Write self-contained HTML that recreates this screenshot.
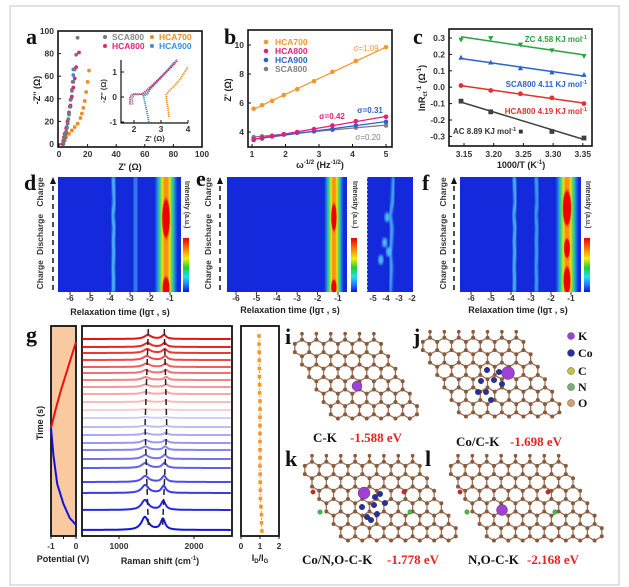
<!DOCTYPE html>
<html><head><meta charset="utf-8">
<style>
html,body{margin:0;padding:0;background:#fff;width:629px;height:587px;overflow:hidden}
svg{display:block}
text{font-family:"Liberation Sans",sans-serif;font-weight:bold}
.pl{font-family:"Liberation Serif",serif;font-size:22px;font-weight:bold;fill:#111}
.tk{font-size:8.5px;fill:#333}
.at{font-size:9px;fill:#222}
.sf{font-family:"Liberation Serif",serif;font-weight:bold}
</style></head>
<body>
<svg id="fig" width="629" height="587" viewBox="0 0 629 587" xmlns="http://www.w3.org/2000/svg">
<defs>
 <linearGradient id="cbar" x1="0" y1="0" x2="0" y2="1">
  <stop offset="0" stop-color="#e80000"/><stop offset="0.2" stop-color="#ff7a00"/><stop offset="0.38" stop-color="#f0f000"/>
  <stop offset="0.55" stop-color="#20d030"/><stop offset="0.72" stop-color="#20e0f0"/><stop offset="0.86" stop-color="#2080ff"/><stop offset="1" stop-color="#1010e0"/>
 </linearGradient>
 <linearGradient id="gc"><stop offset="0" stop-color="#30d8f0" stop-opacity="0"/><stop offset="0.25" stop-color="#30d8f0"/><stop offset="0.75" stop-color="#30d8f0"/><stop offset="1" stop-color="#30d8f0" stop-opacity="0"/></linearGradient>
 <linearGradient id="gg"><stop offset="0" stop-color="#40d040" stop-opacity="0"/><stop offset="0.25" stop-color="#40d040"/><stop offset="0.75" stop-color="#40d040"/><stop offset="1" stop-color="#40d040" stop-opacity="0"/></linearGradient>
 <linearGradient id="gy"><stop offset="0" stop-color="#f4f020" stop-opacity="0"/><stop offset="0.25" stop-color="#f4f020"/><stop offset="0.75" stop-color="#f4f020"/><stop offset="1" stop-color="#f4f020" stop-opacity="0"/></linearGradient>
 <linearGradient id="go"><stop offset="0" stop-color="#ff9a10" stop-opacity="0"/><stop offset="0.3" stop-color="#ff9010"/><stop offset="0.7" stop-color="#ff9010"/><stop offset="1" stop-color="#ff9010" stop-opacity="0"/></linearGradient>
 <radialGradient id="rb"><stop offset="0" stop-color="#e80000"/><stop offset="0.75" stop-color="#f00000"/><stop offset="1" stop-color="#ff5000" stop-opacity="0"/></radialGradient>
 <filter id="bl"><feGaussianBlur stdDeviation="1.2"/></filter>
</defs>
<rect x="10" y="6" width="609" height="579" fill="none" stroke="#cfcfcf" stroke-width="1.2"/>

<text class="pl" x="26" y="44">a</text>
<text class="pl" x="224" y="44">b</text>
<text class="pl" x="413" y="44">c</text>
<text class="pl" x="24" y="190">d</text>
<text class="pl" x="196" y="186">e</text>
<text class="pl" x="422" y="190">f</text>
<text class="pl" x="26" y="342">g</text>
<text class="pl" x="243" y="344">h</text>
<text class="pl" x="285" y="344">i</text>
<text class="pl" x="413" y="344">j</text>
<text class="pl" x="285" y="466">k</text>
<text class="pl" x="425" y="466">l</text>

<rect x="58" y="31" width="144" height="116" fill="none" stroke="#111" stroke-width="1.6"/>
<rect x="248" y="30" width="144" height="117" fill="none" stroke="#111" stroke-width="1.6"/>
<rect x="449" y="29" width="143" height="117" fill="none" stroke="#111" stroke-width="1.6"/>

<text class="at" transform="translate(40,90) rotate(-90)" text-anchor="middle">-Z'' (Ω)</text>
<text class="at" x="130" y="170" text-anchor="middle">Z' (Ω)</text>
<text class="tk" x="155" y="141" text-anchor="middle" style="font-size:7.5px">Z' (Ω)</text>
<text class="tk" transform="translate(106,91) rotate(-90)" text-anchor="middle" style="font-size:7.5px">-Z'' (Ω)</text>
<text x="112" y="40" style="font-size:8.5px;fill:#888">SCA800</text>
<text x="159" y="40" style="font-size:8.5px;fill:#f08a20">HCA700</text>
<text x="112" y="49" style="font-size:8.5px;fill:#e8207a">HCA800</text>
<text x="159" y="49" style="font-size:8.5px;fill:#3a8ee0">HCA900</text>

<text class="at" transform="translate(231,90) rotate(-90)" text-anchor="middle">Z' (Ω)</text>
<text class="at" x="320" y="168" text-anchor="middle">ω<tspan font-size="6" dy="-4">-1/2</tspan><tspan dy="4"> (Hz</tspan><tspan font-size="6" dy="-4">-1/2</tspan><tspan dy="4">)</tspan></text>
<text x="275" y="45" style="font-size:8.5px;fill:#f5962a">HCA700</text>
<text x="275" y="54" style="font-size:8.5px;fill:#e0207a">HCA800</text>
<text x="275" y="63" style="font-size:8.5px;fill:#2a62c8">HCA900</text>
<text x="275" y="72" style="font-size:8.5px;fill:#808080">SCA800</text>
<text x="366" y="51" text-anchor="middle" style="font-size:8px;fill:#f5962a;font-weight:normal">σ=1.09</text>
<text x="332" y="119" text-anchor="middle" style="font-size:8px;fill:#e0207a">σ=0.42</text>
<text x="370" y="113" text-anchor="middle" style="font-size:8px;fill:#2a62c8">σ=0.31</text>
<text x="368" y="140" text-anchor="middle" style="font-size:8px;fill:#808080;font-weight:normal">σ=0.20</text>

<text class="at" transform="translate(425,88) rotate(-90)" text-anchor="middle">lnR<tspan font-size="6" dy="2">ct</tspan><tspan font-size="6" dy="-6">-1</tspan><tspan dy="4"> (Ω</tspan><tspan font-size="6" dy="-4">-1</tspan><tspan dy="4">)</tspan></text>
<text class="at" x="521" y="168" text-anchor="middle">1000/T (K<tspan font-size="6" dy="-4">-1</tspan><tspan dy="4">)</tspan></text>
<text x="587" y="42" text-anchor="end" style="font-size:8px;fill:#2aa040">ZC 4.58 KJ mol<tspan font-size="5.5" dy="-3">-1</tspan></text>
<text x="587" y="87" text-anchor="end" style="font-size:8px;fill:#2a62c8">SCA800   4.11 KJ mol<tspan font-size="5.5" dy="-3">-1</tspan></text>
<text x="587" y="114" text-anchor="end" style="font-size:8px;fill:#e03030">HCA800   4.19 KJ mol<tspan font-size="5.5" dy="-3">-1</tspan></text>
<text x="453" y="134" style="font-size:8px;fill:#333">AC 8.89 KJ mol<tspan font-size="5.5" dy="-3">-1</tspan><tspan dy="3"> ■</tspan></text>

<text class="at" x="120" y="315" text-anchor="middle">Relaxation time (lgτ , s)</text>
<text class="at" x="290" y="313" text-anchor="middle">Relaxation time (lgτ , s)</text>
<text class="at" x="518" y="313" text-anchor="middle">Relaxation time (lgτ , s)</text>
<text class="sf" x="68" y="195" style="font-size:15px;fill:#fff">ZC</text>
<text class="sf" x="236" y="193" style="font-size:15px;fill:#fff">SCA800</text>
<text class="sf" x="464" y="193" style="font-size:15px;fill:#fff">HCA800</text>

<text class="at" transform="translate(43,423) rotate(-90)" text-anchor="middle">Time (s)</text>
<text class="at" x="63" y="562" text-anchor="middle">Potential (V)</text>
<text class="at" x="160" y="564" text-anchor="middle">Raman shift (cm<tspan font-size="6" dy="-4">-1</tspan><tspan dy="4">)</tspan></text>
<text class="at" x="260" y="561" text-anchor="middle">I<tspan font-size="6" dy="2">D</tspan><tspan dy="-2">/I</tspan><tspan font-size="6" dy="2">G</tspan></text>

<text class="sf" x="313" y="442" style="font-size:13px;fill:#111">C-K</text>
<text class="sf" x="350" y="442" style="font-size:13px;fill:#e82020">-1.588 eV</text>
<text class="sf" x="456" y="446" style="font-size:13px;fill:#111">Co/C-K</text>
<text class="sf" x="510" y="446" style="font-size:13px;fill:#e82020">-1.698 eV</text>
<text class="sf" x="302" y="564" style="font-size:13px;fill:#111">Co/N,O-C-K</text>
<text class="sf" x="387" y="564" style="font-size:13px;fill:#e82020">-1.778 eV</text>
<text class="sf" x="468" y="564" style="font-size:13px;fill:#111">N,O-C-K</text>
<text class="sf" x="527" y="564" style="font-size:13px;fill:#e82020">-2.168 eV</text>
</svg>

<script>
const aSCAx=[3,3.5,4,4.5,5,5.5,6,6.5,7,7.5,8,9,10,11,12,13];
const aSCAy=[1,3,5,8,11,14,18,22,27,33,39,47,55,66,79,94];
const aH800x=[2.5,3,3.5,4,5,6,7,8,9,10,11,12,14];
const aH800y=[0,3,6,9,14,20,28,34,42,50,58,68,81];
const aH900x=[3,4,5,5.5,6,7,8,8.5,9,9.5,10,10];
const aH900y=[0,5,10,15,20,26,33,40,48,55,61,66];
const aH700x=[3,4,5,7,9,11,13,15,16,17,18,19,20,21];
const aH700y=[0,3,6,9,12,15,18,23,27,32,38,46,55,65];
const aTicks=[0,20,40,60,80,100];
const inSCAx=[1.95,1.93,1.95,2.0,2.2,2.4,2.6,2.9,3.2,3.6];
const inSCAy=[-0.3,-0.15,0,0.1,0.1,0.12,0.3,0.65,1.0,1.5];
const inH800x=[1.85,1.85,1.95,2.3,2.6,3.0,3.4,3.6];
const inH800y=[-0.3,0,0.12,0.12,0.4,0.8,1.2,1.45];
const inH900x=[2.55,2.48,2.4,2.35,2.5,2.6,3.0,3.5];
const inH900y=[-1,-0.6,-0.2,0.05,0.1,0.35,0.8,1.4];
const inH700x=[3.3,3.25,3.2,3.2,3.3,3.5,3.7,4.0];
const inH700y=[-0.8,-0.4,-0.1,0.1,0.25,0.45,0.7,1.2];
const inXTicks=[2,3,4];
const inYTicks=[1,0,-1];
const bX=[1.05,1.3,1.6,1.95,2.35,2.85,3.4,4.1,5];
const bH700=[5.6,5.85,6.15,6.55,6.95,7.5,8.15,8.9,9.85];
const bH800=[3.5,3.6,3.7,3.85,4.0,4.2,4.45,4.75,5.05];
const bH900=[3.45,3.55,3.7,3.82,3.95,4.05,4.2,4.45,4.7];
const bSCA=[3.65,3.7,3.75,3.85,3.95,4.05,4.15,4.3,4.45];
const bXTicks=[1,2,3,4,5];
const bYTicks=[4,6,8,10];
const cX=[3.145,3.195,3.245,3.298,3.352];
const cZC=[0.29,0.30,0.26,0.225,0.19];
const cSCA=[0.18,0.15,0.115,0.09,0.075];
const cH800=[0.01,-0.02,-0.04,-0.065,-0.1];
const cACx=[3.145,3.195,3.298,3.352];
const cAC=[-0.085,-0.15,-0.27,-0.31];
const cXTicks=[3.15,3.20,3.25,3.30,3.35];
const cYTicks=[0.3,0.2,0.1,0.0,-0.1,-0.2,-0.3];
const hmTicks=[-6,-5,-4,-3,-2,-1];
const dThin=[-3.85,-2.75]; const dThinW=[0.12,0.3]; const dThinC=['#48b4f2','#2f78ea'];
const dMain=-1.2; const dLayers=[0.58,0.44,0.31,0.2];
const dBlobP=[0.36,0.97]; const dBlobRy=[0.2,0.12]; const dBlobRx=[0.22,0.2];
const eMain=-1.2; const eLayers=[0.48,0.36,0.25,0.15];
const eBlobP=[0.35,0.96]; const eBlobRy=[0.14,0.08]; const eBlobRx=[0.15,0.15];
const fThin=[-3.85,-2.75]; const fThinW=[0.11,0.13]; const fThinC=['#48b4f2','#3a9af0'];
const fMain=-1.2; const fLayers=[0.58,0.44,0.31,0.2];
const fBlobP=[0.27,0.62,0.9]; const fBlobRy=[0.18,0.1,0.14]; const fBlobRx=[0.24,0.17,0.2];
const wiggle=[0,0.05,0.1,-0.05,0.08,0,0.05,-0.02,0.03,0];
const e2Line=[-3.4,-3.45,-3.5,-3.7,-3.55,-3.6,-3.7,-3.6,-3.65,-3.7];
const e2SpotX=[-4.4,-4.1,-3.8,-3.9]; const e2SpotP=[0.72,0.57,0.65,0.35];
const e2Ticks=[-5,-4,-3,-2];
const ramanOffsets=[197,189,183,176,169,163,156,149,142,134,126,118,109,101,93,86,77,68,54,43,26,6];
const ramanDAmp=[4,4,4,4,3.5,3,3,2.5,2,1.5,1,1,1.5,2,3,3.5,4,5,6,8,10,13];
const ramanGAmp=[4,4,4,4,3.5,3,3,2.5,2,1.5,1,1,1.5,2,3,3.5,4,5,6,7,9,11];
const ramanDPos=[1385,1380,1375,1370,1365,1360,1355,1352,1350,1350,1350,1350,1350,1350,1350,1350,1350,1350,1350,1348,1345,1345];
const ramanGPos=[1600,1605,1610,1615,1620,1625,1628,1630,1632,1633,1634,1634,1630,1625,1620,1615,1610,1605,1600,1595,1590,1585];
const ramanTicks=[1000,2000];
const dashD=[[1391,197],[1347,100],[1391,0]];
const dashG=[[1604,197],[1636,100],[1582,0]];
const potRed=[[-1,108],[-0.8,128],[-0.6,146],[-0.4,162],[-0.2,178],[0,194]];
const potBlue=[[-1,108],[-0.9,80],[-0.75,52],[-0.5,32],[-0.25,18],[0,11]];
const potTicks=[-1,-0.5,0];
const hRatio=[0.95,0.95,0.96,0.96,0.97,0.97,0.98,0.98,1.0,1.0,1.0,1.0,1.0,1.0,1.0,1.0,1.0,1.01,1.01,1.02,1.02,1.05,1.08,1.08,1.1];
const hTicks=[0,1,2];

const NS='http://www.w3.org/2000/svg';
const svg=document.getElementById('fig');
function el(tag,attrs,name,parent){
  const e=document.createElementNS(NS,tag);
  for(const k in attrs)e.setAttribute(k,attrs[k]);
  
  
  (parent||svg).appendChild(e);return e;
}
function txt(x,y,s,cls,anchor,name){const t=el('text',{x:x,y:y,class:cls,'text-anchor':anchor||'middle'},name);t.textContent=s;return t;}
function marker(shape,x,y,c,r,name){
  if(shape==='c')return el('circle',{cx:x,cy:y,r:r,fill:c},name);
  if(shape==='s')return el('rect',{x:x-r,y:y-r,width:2*r,height:2*r,fill:c},name);
  if(shape==='tu')return el('polygon',{points:`${x},${y-r*1.2} ${x-r*1.1},${y+r*0.8} ${x+r*1.1},${y+r*0.8}`,fill:c},name);
  if(shape==='td')return el('polygon',{points:`${x},${y+r*1.2} ${x-r*1.1},${y-r*0.8} ${x+r*1.1},${y-r*0.8}`,fill:c},name);
}

const aX=v=>59+v*1.43, aY=v=>144-v*1.13;
aTicks.forEach(v=>{
  txt(aX(v),157,String(v),'tk','middle','a-x-tick-label');
  txt(54,aY(v)+3,String(v),'tk','end','a-y-tick-label');
  el('line',{x1:aX(v),x2:aX(v),y1:147,y2:144,stroke:'#111'},'a-x-tick');
  el('line',{x1:58,x2:61,y1:aY(v),y2:aY(v),stroke:'#111'},'a-y-tick');
});
function aSeries(xs,ys,c,name){xs.forEach((x,i)=>{marker('c',aX(x),aY(ys[i]),c,1.9,name);});}
aSeries(aH700x,aH700y,'#f08a20','series-hca700-point');
aSeries(aH900x,aH900y,'#3a8ee0','series-hca900-point');
aSeries(aH800x,aH800y,'#e8207a','series-hca800-point');
aSeries(aSCAx,aSCAy,'#777','series-sca800-point');
marker('c',105,37,'#777',2,'legend-marker-sca800');
marker('c',152,37,'#f08a20',2,'legend-marker-hca700');
marker('c',105,46,'#e8207a',2,'legend-marker-hca800');
marker('c',152,46,'#3a8ee0',2,'legend-marker-hca900');
const iX=v=>134+(v-2)*27, iY=v=>97-v*25;
el('polyline',{points:'121,60 121,123 188,123',fill:'none',stroke:'#111','stroke-width':1.2},'a-inset-axes');
inXTicks.forEach(v=>{txt(iX(v),132,String(v),'tk','middle','a-inset-x-tick-label');el('line',{x1:iX(v),x2:iX(v),y1:123,y2:120,stroke:'#111'},'a-inset-x-tick');});
inYTicks.forEach(v=>{txt(117,iY(v)+3,String(v),'tk','end','a-inset-y-tick-label');el('line',{x1:121,x2:124,y1:iY(v),y2:iY(v),stroke:'#111'},'a-inset-y-tick');});
function inLine(xs,ys,c,name){el('polyline',{points:xs.map((x,i)=>iX(x)+','+iY(ys[i])).join(' '),fill:'none',stroke:c,'stroke-width':1.8,'stroke-dasharray':'1.2 0.8'},name);}
inLine(inH700x,inH700y,'#f08a20','inset-hca700');
inLine(inH900x,inH900y,'#3a8ee0','inset-hca900');
inLine(inSCAx,inSCAy,'#777','inset-sca800');
inLine(inH800x,inH800y,'#e8207a','inset-hca800');

const bXs=v=>252+(v-1)*33.5, bYs=v=>132-(v-4)*14.5;
bXTicks.forEach(v=>{txt(bXs(v),157,String(v),'tk','middle','b-x-tick-label');el('line',{x1:bXs(v),x2:bXs(v),y1:147,y2:144,stroke:'#111'},'b-x-tick');});
bYTicks.forEach(v=>{txt(244,bYs(v)+3,String(v),'tk','end','b-y-tick-label');el('line',{x1:248,x2:251,y1:bYs(v),y2:bYs(v),stroke:'#111'},'b-y-tick');});
function fitLine(xs,ys){const n=xs.length;let sx=0,sy=0,sxx=0,sxy=0;xs.forEach((x,i)=>{sx+=x;sy+=ys[i];sxx+=x*x;sxy+=x*ys[i];});const m=(n*sxy-sx*sy)/(n*sxx-sx*sx);return [m,(sy-m*sx)/n];}
function bSeries(ys,c,name){
  const [m,k]=fitLine(bX,ys);
  el('line',{x1:bXs(bX[0]),y1:bYs(m*bX[0]+k),x2:bXs(bX[bX.length-1]),y2:bYs(m*bX[bX.length-1]+k),stroke:c,'stroke-width':1.3},name+'-fit');
  bX.forEach((x,i)=>marker('c',bXs(x),bYs(ys[i]),c,2.3,name+'-point'));
}
bSeries(bSCA,'#808080','series-b-sca800');
bSeries(bH900,'#2a62c8','series-b-hca900');
bSeries(bH800,'#e0207a','series-b-hca800');
bSeries(bH700,'#f5962a','series-b-hca700');
marker('c',266,42,'#f5962a',2.3,'legend-b-marker-hca700');
marker('c',266,51,'#e0207a',2.3,'legend-b-marker-hca800');
marker('c',266,60,'#2a62c8',2.3,'legend-b-marker-hca900');
marker('c',266,69,'#808080',2.3,'legend-b-marker-sca800');

const cXs=v=>464+(v-3.15)/0.05*29.7, cYs=v=>38+(0.3-v)*164;
cXTicks.forEach(v=>{txt(cXs(v),157,v.toFixed(2),'tk','middle','c-x-tick-label');el('line',{x1:cXs(v),x2:cXs(v),y1:146,y2:143,stroke:'#111'},'c-x-tick');});
cYTicks.forEach(v=>{txt(445,cYs(v)+3,v.toFixed(1),'tk','end','c-y-tick-label');el('line',{x1:449,x2:452,y1:cYs(v),y2:cYs(v),stroke:'#111'},'c-y-tick');});
function cSeries(xs,ys,c,shape,name){
  const [m,k]=fitLine(xs,ys);
  el('line',{x1:cXs(xs[0]),y1:cYs(m*xs[0]+k),x2:cXs(xs[xs.length-1]),y2:cYs(m*xs[xs.length-1]+k),stroke:c,'stroke-width':1.5},name+'-fit');
  xs.forEach((x,i)=>marker(shape,cXs(x),cYs(ys[i]),c,2.4,name+'-point'));
}
cSeries(cX,cZC,'#2aa040','td','series-c-zc');
cSeries(cX,cSCA,'#2a62c8','tu','series-c-sca800');
cSeries(cX,cH800,'#e03030','c','series-c-hca800');
cSeries(cACx,cAC,'#404040','s','series-c-ac');

const HY0=177,HY1=292;
const hy=p=>HY0+p*(HY1-HY0);
let clipN=0;
function heatmap(x0,x1,X,pre,thin,thinW,thinC,main,layers,blobP,blobRy,blobRx){
  const id='clip'+(clipN++);
  const cp=el('clipPath',{id:id},pre+'-clip');
  el('rect',{x:x0,y:HY0,width:x1-x0,height:HY1-HY0},pre+'-clip-rect',cp);
  const g=el('g',{'clip-path':`url(#${id})`},pre+'-heatmap');
  el('rect',{x:x0,y:HY0,width:x1-x0,height:HY1-HY0,fill:'#1428dc'},pre+'-background',g);
  thin.forEach((c,i)=>{
    const pts=wiggle.map((w,j)=>X(c+w)+','+hy(j/(wiggle.length-1))).join(' ');
    el('polyline',{points:pts,fill:'none',stroke:thinC[i],'stroke-width':Math.max(2,thinW[i]*2*(X(1)-X(0))),filter:'url(#bl)'},pre+'-band',g);
  });
  const grads=['gc','gg','gy','go'];
  layers.forEach((hw,i)=>{
    el('rect',{x:X(main-hw),y:HY0,width:X(main+hw)-X(main-hw),height:HY1-HY0,fill:`url(#${grads[i]})`},pre+'-main-band',g);
  });
  blobP.forEach((p,i)=>{
    el('ellipse',{cx:X(main),cy:hy(p),rx:blobRx[i]*(X(1)-X(0)),ry:blobRy[i]*(HY1-HY0),fill:'url(#rb)'},pre+'-peak-blob',g);
  });
  hmTicks.forEach(v=>{if(X(v)>x0&&X(v)<x1){txt(X(v),301,String(v),'tk','middle',pre+'-x-tick-label');el('line',{x1:X(v),x2:X(v),y1:HY1,y2:HY1+3,stroke:'#333'},pre+'-x-tick');}});
}
function sideLabels(x,ax,pre){
  [['Charge',0.13],['Discharge',0.5],['Charge',0.85]].forEach(([s,p])=>{
    const t=el('text',{transform:`translate(${x},${hy(p)}) rotate(-90)`,'text-anchor':'middle',class:'tk'},pre+'-cycle-label');t.textContent=s;
  });
  el('line',{x1:ax,x2:ax,y1:HY1-2,y2:HY0+5,stroke:'#111','stroke-width':1.5,'stroke-dasharray':'5 4'},pre+'-cycle-arrow');
  el('polygon',{points:`${ax},${HY0} ${ax-3},${HY0+7} ${ax+3},${HY0+7}`,fill:'#111'},pre+'-cycle-arrowhead');
}
function colorbar(x,pre){
  el('rect',{x:x,y:238,width:6,height:54,fill:'url(#cbar)'},pre+'-colorbar');
  const t=el('text',{transform:`translate(${x+2},181) rotate(90)`,'font-size':7,fill:'#333'},pre+'-colorbar-title');t.textContent='Intensity (a.u.)';
}
const dX=v=>70+(v+6)*20, eX=v=>236+(v+6)*20.4, fX=v=>471+(v+6)*20, e2X=v=>373+(v+5)*13;
heatmap(58,181,dX,'d',dThin,dThinW,dThinC,dMain,dLayers,dBlobP,dBlobRy,dBlobRx);
heatmap(227,347,eX,'e',[],[],[],eMain,eLayers,eBlobP,eBlobRy,eBlobRx);
heatmap(460,581,fX,'f',fThin,fThinW,fThinC,fMain,fLayers,fBlobP,fBlobRy,fBlobRx);
sideLabels(43,53,'d');sideLabels(211,220,'e');sideLabels(446,454,'f');
colorbar(183,'d');colorbar(351,'e');colorbar(584,'f');
(function(){
  const cp=el('clipPath',{id:'clipE2'},'e-inset-clip');
  el('rect',{x:367,y:HY0,width:46,height:HY1-HY0},'e-inset-clip-rect',cp);
  const g=el('g',{'clip-path':'url(#clipE2)'},'e-inset-heatmap');
  el('rect',{x:367,y:HY0,width:46,height:HY1-HY0,fill:'#1428dc'},'e-inset-background',g);
  el('polyline',{points:e2Line.map((v,j)=>e2X(v)+','+hy(j/(e2Line.length-1))).join(' '),fill:'none',stroke:'#50c8f4','stroke-width':3,filter:'url(#bl)'},'e-inset-band',g);
  e2SpotX.forEach((v,i)=>el('ellipse',{cx:e2X(v),cy:hy(e2SpotP[i]),rx:2.5,ry:5,fill:'#50c8f4',filter:'url(#bl)'},'e-inset-spot',g));
  el('line',{x1:367,x2:367,y1:HY0,y2:HY1,stroke:'#fff','stroke-width':1,'stroke-dasharray':'2 2'},'e-inset-left-edge');
  e2Ticks.forEach(v=>{txt(e2X(v),301,String(v),'tk','middle','e-inset-x-tick-label');});
})();

const GY0=326,GY1=536;
el('rect',{x:51,y:GY0,width:25,height:GY1-GY0,fill:'#f9c9a0',stroke:'#111','stroke-width':1.8},'potential-panel');
const pX=v=>76+v*25;
const tY=t=>GY1-t;
el('polyline',{points:potRed.map(([v,t])=>pX(v)+','+tY(t)).join(' '),fill:'none',stroke:'#e81010','stroke-width':2},'potential-charge-curve');
el('polyline',{points:potBlue.map(([v,t])=>pX(v)+','+tY(t)).join(' '),fill:'none',stroke:'#1010e0','stroke-width':2},'potential-discharge-curve');
potTicks.forEach(v=>{el('line',{x1:pX(v),x2:pX(v),y1:GY1,y2:GY1+3,stroke:'#111'},'g-potential-tick');if(v!==-0.5)txt(pX(v),549,String(v),'tk','middle','g-potential-tick-label');});

el('rect',{x:82,y:GY0,width:150,height:GY1-GY0,fill:'#fff',stroke:'#111','stroke-width':1.8},'raman-panel');
const rX=v=>119+(v-1000)*0.075;
const rY=o=>GY1-o;
ramanOffsets.forEach((o,i)=>{
  let col,op;
  if(i<11){col='#e81010';op=1-i*0.08;}else{col='#1515e0';op=0.2+(i-11)*0.08;}
  let d='';
  for(let v=510;v<=2490;v+=10){
    const L=(p,w)=>1/(1+Math.pow((v-p)/w,2));
    const y=rY(o)-ramanDAmp[i]*L(ramanDPos[i],55)-ramanGAmp[i]*L(ramanGPos[i],35);
    d+=(v===510?'M':'L')+rX(v).toFixed(1)+','+y.toFixed(1);
  }
  el('path',{d:d,fill:'none',stroke:col,'stroke-opacity':Math.min(1,op),'stroke-width':2},'raman-spectrum-'+i);
});
el('polyline',{points:dashD.map(([v,o])=>rX(v)+','+rY(o+10)).join(' '),fill:'none',stroke:'#222','stroke-width':1.5,'stroke-dasharray':'6 4'},'raman-d-band-guide');
el('polyline',{points:dashG.map(([v,o])=>rX(v)+','+rY(o+10)).join(' '),fill:'none',stroke:'#222','stroke-width':1.5,'stroke-dasharray':'6 4'},'raman-g-band-guide');
ramanTicks.forEach(v=>{el('line',{x1:rX(v),x2:rX(v),y1:GY1,y2:GY1+3,stroke:'#111'},'raman-x-tick');txt(rX(v),549,String(v),'tk','middle','raman-x-tick-label');});

el('rect',{x:241,y:GY0,width:38,height:GY1-GY0,fill:'#fff',stroke:'#111','stroke-width':1.8},'h-panel');
const hX=v=>241+v*19;
const hY=i=>336+i*(531-336)/(hRatio.length-1);
el('polyline',{points:hRatio.map((v,i)=>hX(v)+','+hY(i)).join(' '),fill:'none',stroke:'#f5962a','stroke-width':1,'stroke-dasharray':'2 1.5'},'h-ratio-line');
hRatio.forEach((v,i)=>marker('s',hX(v),hY(i),'#f5962a',1.8,'h-ratio-point'));
hTicks.forEach(v=>{el('line',{x1:hX(v),x2:hX(v),y1:GY1,y2:GY1+3,stroke:'#111'},'h-x-tick');txt(hX(v),549,String(v),'tk','middle','h-x-tick-label');});

const B=8.3, W=B*Math.sqrt(3);
function lattice(ox,oy,M,N,pre){
  const atoms=new Map(), bonds=new Set();
  const key=(x,y)=>Math.round(x*2)+'_'+Math.round(y*2);
  for(let n=0;n<N;n++)for(let m=0;m<M;m++){
    const cx=ox+m*W+n*W/2, cy=oy+n*1.5*B;
    const pts=[];
    for(let k=0;k<6;k++){const a=k*Math.PI/3;pts.push([cx+B*Math.sin(a),cy-B*Math.cos(a)]);}
    pts.forEach((p,k)=>{atoms.set(key(p[0],p[1]),p);const q=pts[(k+1)%6];const kk=[key(p[0],p[1]),key(q[0],q[1])].sort().join('|');if(!bonds.has(kk)){bonds.add(kk);el('line',{x1:p[0],y1:p[1],x2:q[0],y2:q[1],stroke:'#9a7458','stroke-width':1.3},pre+'-bond');}});
  }
  for(let m=0;m<M;m++){const x=ox+m*W,y=oy-B;el('line',{x1:x,y1:y,x2:x,y2:y-6,stroke:'#9a7458','stroke-width':1.3},pre+'-edge-bond');el('circle',{cx:x,cy:y-6,r:1.8,fill:'#8a5a3a'},pre+'-edge-atom');}
  atoms.forEach(p=>el('circle',{cx:p[0],cy:p[1],r:2,fill:'#8a5a3a'},pre+'-carbon-atom'));
}
lattice(302,348,6,6,'i');
lattice(430,346,7,6,'j');
lattice(312,470,8,6,'k');
lattice(458,470,8,6,'l');
function atom(x,y,r,c,name){el('circle',{cx:x,cy:y,r:r,fill:c,stroke:'#333','stroke-width':0.4},name);}
atom(357,386,5,'#a040d8','i-potassium-atom');
[[487,370],[481,381],[486,392],[494,380],[499,372],[502,384],[491,400],[478,392]].forEach(p=>atom(p[0],p[1],2.8,'#2a2ea0','j-cobalt-atom'));
atom(508,373,6.5,'#a040d8','j-potassium-atom');
[[375,497],[362,507],[367,517],[374,505],[380,494],[385,503],[377,514],[371,520]].forEach(p=>atom(p[0],p[1],2.8,'#2a2ea0','k-cobalt-atom'));
atom(364,493,6,'#a040d8','k-potassium-atom');
atom(502,510,5.5,'#a040d8','l-potassium-atom');
[[313,492],[404,492],[460,492],[548,492]].forEach(p=>atom(p[0],p[1],2.2,'#e02020','oxygen-atom'));
[[320,512],[410,512],[467,512],[555,512]].forEach(p=>atom(p[0],p[1],2.2,'#30d030','nitrogen-atom'));
[['K','#a040d8',340],['Co','#2a2ea0',357],['C','#c8c040',375],['N','#7ab070',391],['O','#d4a070',407]].forEach(([s,c,y])=>{
  atom(571,y-4,3.5,c,'legend-marker-'+s.toLowerCase());
  const t=el('text',{x:578,y:y,class:'sf','font-size':12,fill:'#111'},'legend-label-'+s.toLowerCase());t.textContent=s;
});
</script>
</body></html>
